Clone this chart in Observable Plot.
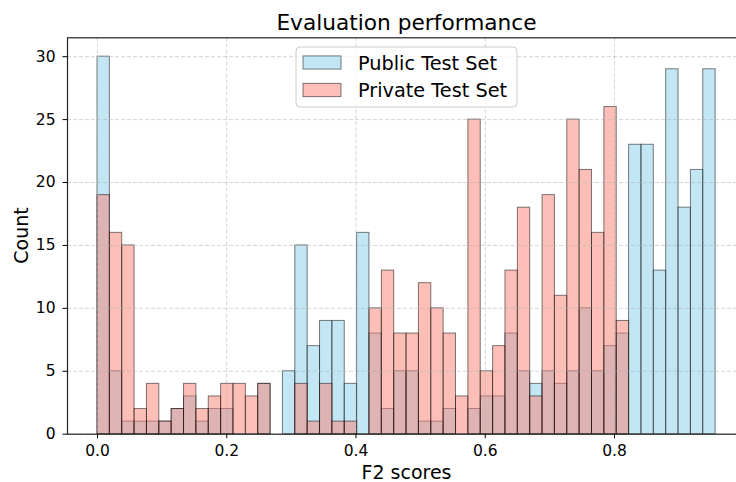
<!DOCTYPE html>
<html><head><meta charset="utf-8">
<script src="https://cdn.jsdelivr.net/npm/d3@7"></script>
<script src="https://cdn.jsdelivr.net/npm/@observablehq/plot@0.6"></script>
<style>
body{margin:0;background:#fff;}
#wrap{position:relative;width:736px;height:482px;overflow:hidden;background:#fff;font-family:"DejaVu Sans",sans-serif;}
#wrap svg{max-width:none !important;display:block;}
</style></head><body><div id="wrap"></div>
<script>
// Histogram bins (50 equal bins between these edges)
const binStart = 0;
const binEnd = 0.9565;
const binCount = 50;
const publicCounts = [30,5,1,1,1,1,2,3,1,2, 2,0,0,4,0,5,15,7,9,9, 4,16,8,2,5,5,1,1,2,0, 2,3,3,8,5,4,5,4,5,10, 5,7,8,23,23,13,29,18,21,29];
const privateCounts = [19,16,15,2,4,1,2,4,2,3, 4,4,3,4,0,0,4,1,4,1, 1,0,10,13,8,8,12,10,8,3, 25,5,7,13,18,3,19,11,25,21, 16,26,9,0,0,0,0,0,0,0];
const seriesNames = ["Public Test Set", "Private Test Set"];
const seriesColors = ["skyblue", "salmon"];
const xTicks = [0, 0.2, 0.4, 0.6, 0.8];
const yTicks = [0, 5, 10, 15, 20, 25, 30];
const titleText = "Evaluation performance";
const xLabel = "F2 scores";
const yLabel = "Count";

const w = (binEnd - binStart) / binCount;
const rows = [];
[publicCounts, privateCounts].forEach((counts, s) =>
  counts.forEach((c, i) => rows.push({series: seriesNames[s], x1: binStart + i * w, x2: binStart + (i + 1) * w, count: c})));

const gridStyle = {stroke: "#b0b0b0", strokeOpacity: 0.6, strokeDasharray: "4,2", strokeWidth: 0.9};
const svg = Plot.plot({
  width: 747, height: 482,
  marginLeft: 67, marginRight: 1, marginTop: 37.3, marginBottom: 48.3,
  style: {fontFamily: "DejaVu Sans", background: "white", color: "black"},
  x: {domain: [-0.04642, 1.00426]},
  y: {domain: [0, 31.5]},
  color: {domain: seriesNames, range: seriesColors},
  marks: [
    Plot.rect(rows.filter(d => d.count > 0), {x1: "x1", x2: "x2", y1: 0, y2: "count", fill: "series", fillOpacity: 0.5, stroke: "black", strokeOpacity: 0.5, strokeWidth: 1, inset: 0}),
    Plot.gridX(xTicks, gridStyle),
    Plot.gridY(yTicks, gridStyle),
    Plot.frame({stroke: "#222", strokeWidth: 1.2}),
    Plot.axisX(xTicks, {tickFormat: d3.format(".1f"), tickSize: 4.5, tickPadding: 6, fontSize: 15.5, label: null}),
    Plot.axisY(yTicks, {tickSize: 4.5, tickPadding: 7.5, fontSize: 15.5, label: null})
  ]
});
document.getElementById("wrap").appendChild(svg);

const s = d3.select(svg);
const cx = 406.5;
s.append("text").attr("x", cx).attr("y", 29.5).attr("text-anchor", "middle")
  .attr("font-size", 21.7).attr("fill", "black").text(titleText);
s.append("text").attr("x", cx).attr("y", 479).attr("text-anchor", "middle")
  .attr("font-size", 19).attr("fill", "black").text(xLabel);
s.append("text").attr("transform", "translate(28.3,235.5) rotate(-90)").attr("text-anchor", "middle")
  .attr("font-size", 19).attr("fill", "black").text(yLabel);

// legend
const lg = s.append("g");
lg.append("rect").attr("x", 296).attr("y", 47).attr("width", 221).attr("height", 60).attr("rx", 4)
  .attr("fill", "white").attr("fill-opacity", 0.8).attr("stroke", "#cccccc").attr("stroke-width", 1);
seriesNames.forEach((name, i) => {
  const yc = 62.5 + i * 27.5;
  lg.append("rect").attr("x", 303).attr("y", yc - 6.6).attr("width", 38).attr("height", 13.2)
    .attr("fill", seriesColors[i]).attr("fill-opacity", 0.5).attr("stroke", "black").attr("stroke-opacity", 0.5);
  lg.append("text").attr("x", 358).attr("y", yc + 7).attr("text-anchor", "start")
    .attr("font-size", 19.3).attr("fill", "black").text(name);
});
</script></body></html>
